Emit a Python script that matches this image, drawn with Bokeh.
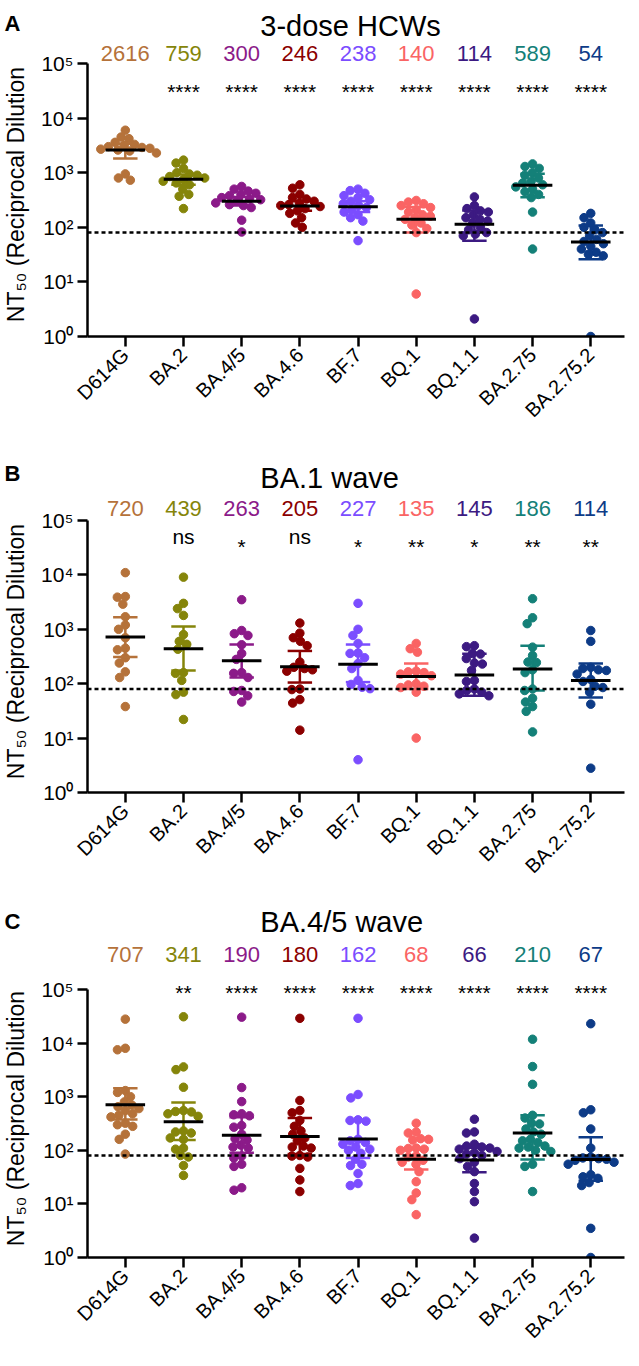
import math
from bokeh.plotting import figure
from bokeh.models import FixedTicker, Span, Range1d, ColumnDataSource
from bokeh.layouts import column, row
from bokeh.embed import file_html
from bokeh.resources import INLINE
from bokeh.core.properties import value

# ---------------- data ----------------
variants = ["D614G", "BA.2", "BA.4/5", "BA.4.6", "BF.7", "BQ.1", "BQ.1.1", "BA.2.75", "BA.2.75.2"]
colors = ["#B5723A", "#85850A", "#8B1A89", "#8B0000", "#7B4DFF", "#FA6464", "#3C1A82", "#148078", "#0D3B87"]
y_ticks = [1, 10, 100, 1000, 10000, 100000]
y_tick_labels = ["10⁰", "10¹", "10²", "10³", "10⁴", "10⁵"]
y_label = "NT₅₀ (Reciprocal Dilution"
lod = 80

a_title = "3-dose HCWs"
a_geomean = [2616, 759, 300, 246, 238, 140, 114, 589, 54]
a_sig = ["", "****", "****", "****", "****", "****", "****", "****", "****"]
a_lo = [1820, 600, 250, 200, 190, 80, 57, 355, 26]
a_hi = [3400, 930, 360, 300, 300, 235, 203, 960, 108]
a_points = [
    [6000, 4500, 4200, 3600, 3300, 3200, 3000, 2900, 2800, 2700, 2600, 2500, 2300, 950, 800, 730],
    [1700, 1500, 1200, 1000, 950, 900, 850, 800, 750, 700, 650, 600, 500, 400, 370, 220],
    [560, 500, 460, 420, 400, 380, 350, 330, 320, 300, 280, 260, 250, 230, 135, 82],
    [600, 520, 400, 350, 330, 300, 280, 260, 250, 240, 220, 200, 180, 150, 120, 100],
    [500, 470, 420, 380, 350, 320, 300, 270, 250, 230, 210, 190, 170, 150, 130, 57],
    [310, 290, 270, 250, 230, 210, 190, 170, 160, 150, 140, 120, 110, 95, 80, 6],
    [360, 250, 220, 200, 190, 170, 150, 140, 130, 120, 100, 90, 80, 75, 70, 2.1],
    [1450, 1300, 1200, 1000, 900, 800, 700, 650, 600, 550, 500, 450, 400, 350, 190, 40],
    [180, 150, 120, 100, 90, 80, 70, 60, 55, 50, 45, 40, 35, 32, 30, 1],
]

b_title = "BA.1 wave"
b_geomean = [720, 439, 263, 205, 227, 135, 145, 186, 114]
b_sig = ["", "ns", "*", "ns", "*", "**", "*", "**", "**"]
b_lo = [310, 175, 130, 105, 107, 80, 60, 75, 56]
b_hi = [1660, 1120, 525, 400, 525, 235, 355, 500, 235]
b_points = [
    [11000, 4000, 3900, 2900, 1700, 1200, 1000, 700, 450, 420, 300, 240, 165, 130, 38],
    [9100, 3000, 2400, 1800, 800, 600, 530, 430, 160, 155, 115, 70, 63, 22],
    [3500, 950, 830, 770, 520, 360, 280, 160, 155, 130, 75, 72, 60, 46],
    [1300, 850, 700, 600, 500, 250, 200, 190, 180, 170, 80, 78, 51, 44, 14],
    [3000, 1000, 770, 550, 365, 360, 300, 235, 190, 115, 97, 86, 81, 4],
    [550, 440, 380, 170, 165, 160, 150, 140, 100, 95, 90, 85, 70, 10],
    [500, 480, 360, 350, 290, 240, 230, 175, 115, 110, 80, 75, 70, 65, 60],
    [3650, 1630, 1270, 470, 330, 250, 245, 180, 160, 80, 75, 54, 46, 38, 31, 13],
    [950, 600, 200, 190, 180, 175, 150, 120, 110, 90, 85, 70, 42, 2.8],
]

c_title = "BA.4/5 wave"
c_geomean = [707, 341, 190, 180, 162, 68, 66, 210, 67]
c_sig = ["", "**", "****", "****", "****", "****", "****", "****", "****"]
c_lo = [375, 155, 90, 85, 72, 44, 39, 67, 27]
c_hi = [1440, 780, 415, 400, 360, 110, 112, 450, 175]
c_points = [
    [28000, 8000, 7500, 1300, 1200, 1000, 800, 700, 650, 600, 550, 480, 450, 420, 320, 300, 280, 200, 160, 85],
    [31000, 3600, 3200, 1500, 550, 530, 520, 480, 430, 230, 220, 210, 170, 160, 110, 105, 80, 75, 52, 34],
    [30500, 1480, 810, 480, 460, 440, 290, 270, 200, 165, 155, 125, 115, 110, 78, 72, 55, 50, 20, 18],
    [29000, 850, 550, 500, 360, 280, 230, 200, 170, 150, 120, 115, 110, 80, 78, 75, 46, 28, 17],
    [29000, 1100, 950, 370, 360, 350, 160, 150, 140, 130, 115, 105, 100, 88, 68, 55, 52, 37, 24, 22],
    [320, 220, 210, 165, 160, 155, 110, 108, 105, 100, 78, 75, 65, 60, 55, 40, 26, 16, 12, 6.3],
    [380, 220, 210, 130, 120, 115, 110, 105, 95, 90, 85, 80, 70, 60, 50, 40, 24, 17, 11, 2.3],
    [11800, 3650, 1700, 450, 400, 320, 310, 250, 220, 200, 160, 150, 140, 120, 115, 110, 100, 95, 55, 50, 17],
    [23000, 570, 500, 250, 110, 75, 72, 70, 68, 65, 60, 55, 35, 32, 30, 25, 22, 3.5, 1],
]

FONT = "Liberation Sans"
SW = 37            # width of the side strip (panel letter + y label)
W = 589            # main figure width
X0, X1 = -0.65, 8.58
BL, BR, BT = 50, 2, 2


def swarm(vals, ppx, ppd, diam=8.0):
    """Deterministic beeswarm offsets (data units) so dots do not overlap."""
    ys = [math.log10(v) * ppd for v in vals]
    order = sorted(range(len(vals)), key=lambda k: -ys[k])
    placed, offs = [], [0.0] * len(vals)
    for k in order:
        y = ys[k]
        cands = [0.0]
        for (px, py) in placed:
            dy = y - py
            if abs(dy) < diam:
                dx = math.sqrt(diam * diam - dy * dy)
                cands += [px + dx, px - dx]
        cands.sort(key=lambda c: (abs(c), c))
        chosen = 0.0
        for c in cands:
            if all((c - px) ** 2 + (y - py) ** 2 >= diam * diam - 1e-6 for px, py in placed):
                chosen = c
                break
        placed.append((chosen, y))
        offs[k] = chosen / ppx
    return offs


def side(letter, height, fbot, letter_y, label_y):
    # frames in a row share top/bottom borders, so map the side frame to the
    # same pixel rows as the main frame (figure px measured from the top)
    s = figure(width=SW, height=height, x_range=Range1d(0, SW),
               y_range=Range1d(height - fbot, height - BT),
               x_axis_location=None, y_axis_location=None, output_backend="svg",
               toolbar_location=None, min_border_left=0, min_border_right=0,
               min_border_top=BT, min_border_bottom=height - fbot)
    s.grid.visible = False
    s.outline_line_color = None
    s.text(x=[4], y=[height - letter_y], text=[letter], text_color="black",
           text_font=value(FONT), text_font_size="22px", text_font_style="bold",
           text_align="left", text_baseline="middle")
    s.text(x=[15], y=[height - label_y], text=[y_label], angle=math.pi / 2,
           text_color="black", text_font=value(FONT), text_font_size="23px",
           text_align="center", text_baseline="middle")
    return s


def panel(title, pts, gm, sig, lo, hi, height, fbot, ppd,
          title_y, gm_y, star_y, ns_y):
    """fbot: frame bottom in figure px (frame top is at BT px); *_y: figure px."""
    dec = lambda fy: 10 ** ((fbot - fy) / ppd)
    p = figure(width=W, height=height, x_range=Range1d(X0, X1),
               y_range=Range1d(1, dec(BT)), y_axis_type="log",
               output_backend="svg", toolbar_location=None,
               min_border_left=BL, min_border_right=BR, min_border_top=BT,
               min_border_bottom=height - fbot)
    p.outline_line_color = None
    p.grid.visible = False
    p.background_fill_color = "white"

    frame_w = W - BL - BR
    ppx = frame_w / (X1 - X0)

    p.add_layout(Span(location=lod, dimension="width", line_color="black",
                      line_dash="4 3", line_width=2.5))

    for i, vals in enumerate(pts):
        offs = swarm(vals, ppx, ppd)
        src = ColumnDataSource(dict(x=[i + o for o in offs], y=vals))
        p.scatter("x", "y", source=src, size=8.5, fill_color=colors[i],
                  line_color=colors[i], marker="circle")

    idx = list(range(len(variants)))
    p.segment(x0=idx, y0=lo, x1=idx, y1=hi, line_color=colors, line_width=2.5)
    p.segment(x0=[i - 0.21 for i in idx], y0=lo, x1=[i + 0.21 for i in idx], y1=lo,
              line_color=colors, line_width=2.5)
    p.segment(x0=[i - 0.21 for i in idx], y0=hi, x1=[i + 0.21 for i in idx], y1=hi,
              line_color=colors, line_width=2.5)
    p.segment(x0=[i - 0.34 for i in idx], y0=gm, x1=[i + 0.34 for i in idx], y1=gm,
              line_color="black", line_width=3)

    p.text(x=idx, y=[dec(gm_y)] * len(idx), text=[str(g) for g in gm],
           text_color=colors, text_font=value(FONT), text_font_size="22px",
           text_align="center", text_baseline="middle")
    sx = [i for i in idx if "*" in sig[i]]
    p.text(x=sx, y=[dec(star_y)] * len(sx), text=[sig[i] for i in sx],
           text_color="black", text_font=value(FONT), text_font_size="21px",
           text_align="center", text_baseline="middle")
    nx = [i for i in idx if sig[i] == "ns"]
    if nx:
        p.text(x=nx, y=[dec(ns_y)] * len(nx), text=[sig[i] for i in nx],
               text_color="black", text_font=value(FONT), text_font_size="21px",
               text_align="center", text_baseline="middle")
    p.text(x=[2.32], y=[dec(title_y)], text=[title], text_color="black",
           text_font=value(FONT), text_font_size="29px", text_align="left",
           text_baseline="middle")

    for ax in (p.xaxis[0], p.yaxis[0]):
        ax.axis_line_width = 2.5
        ax.axis_line_color = "black"
        ax.major_tick_line_width = 2.5
        ax.major_tick_line_color = "black"
        ax.major_tick_out = 10
        ax.major_tick_in = 0
        ax.minor_tick_line_color = None
        ax.major_label_text_font = FONT
        ax.major_label_text_color = "black"

    ya = p.yaxis[0]
    ya.ticker = FixedTicker(ticks=y_ticks)
    ya.major_label_overrides = {t: l for t, l in zip(y_ticks, y_tick_labels)}
    ya.major_label_text_font_size = "21px"
    ya.bounds = (1, 100000)
    ya.major_label_standoff = 4

    xa = p.xaxis[0]
    xa.ticker = FixedTicker(ticks=idx)
    xa.major_label_overrides = {i: v for i, v in zip(idx, variants)}
    xa.major_label_orientation = math.pi / 4
    xa.major_label_text_font_size = "20px"
    xa.major_label_standoff = 5
    return p


pa = panel(a_title, a_points, a_geomean, a_sig, a_lo, a_hi,
           height=450, fbot=336, ppd=54.6,
           title_y=25, gm_y=53, star_y=91, ns_y=86)
pb = panel(b_title, b_points, b_geomean, b_sig, b_lo, b_hi,
           height=450, fbot=342, ppd=54.4,
           title_y=27, gm_y=58, star_y=96, ns_y=86)
pc = panel(c_title, c_points, c_geomean, c_sig, c_lo, c_hi,
           height=454, fbot=357, ppd=53.6,
           title_y=21, gm_y=54, star_y=92, ns_y=86)

layout = column(
    row(side("A", 450, 336, 23, 194), pa),
    row(side("B", 450, 342, 23, 201), pb),
    row(side("C", 454, 357, 21, 218), pc),
)
open("out.html", "w").write(file_html(layout, INLINE))
